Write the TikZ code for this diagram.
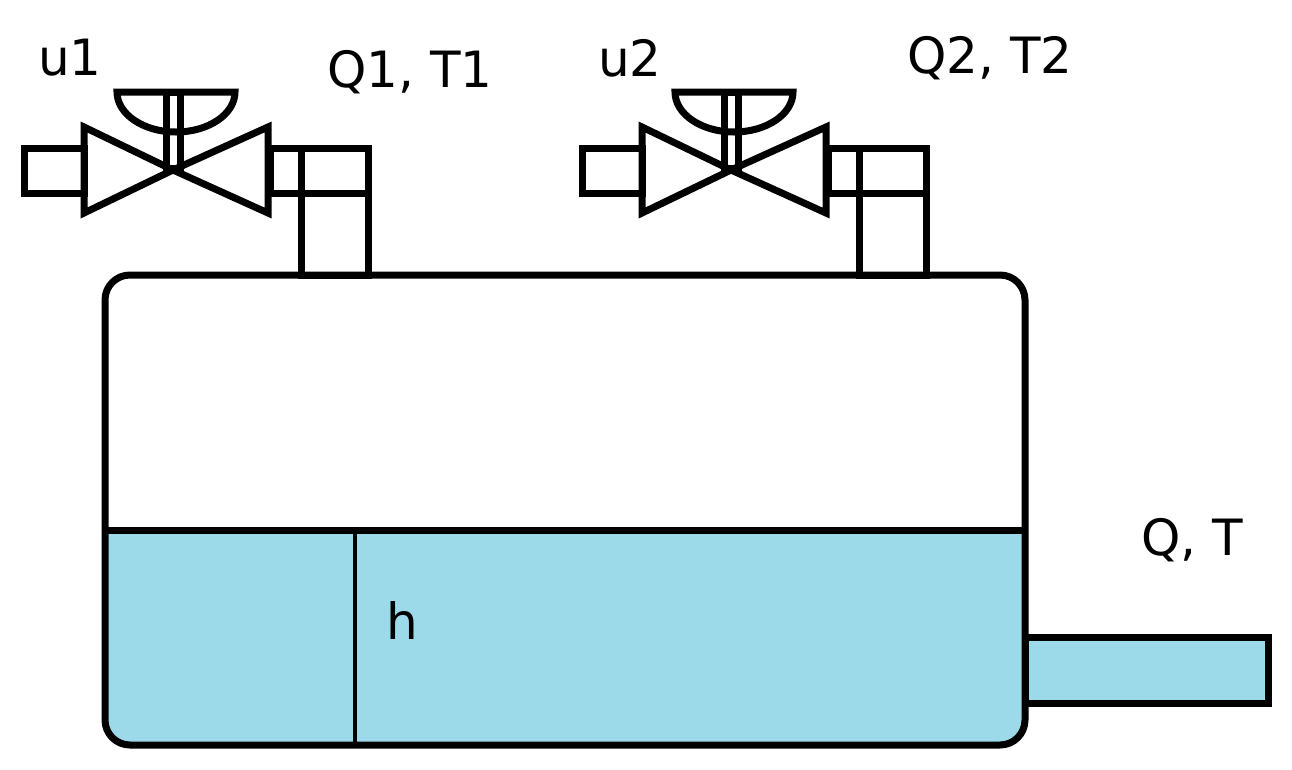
\documentclass[tikz,border=0pt]{standalone}
\usepackage{fontspec}
\setmainfont{DejaVu Sans}
\definecolor{liq}{HTML}{9CDAEA}
\begin{document}
\begin{tikzpicture}[x=1pt,y=-1pt,line width=7pt,line join=miter,
  lbl/.style={font=\fontsize{50}{60}\selectfont,inner sep=0pt},
  valve/.pic={
    \draw (24,148) rectangle (84,193);
    \draw (173,170) -- (84,127) -- (84,213) -- cycle;
    \draw (173,170) -- (268,127) -- (268,213) -- cycle;
    \draw (166,92) rectangle (180,168);
    \draw (117,92) arc[start angle=180,end angle=0,x radius=59,y radius=40] -- cycle;
    \draw (270,148) rectangle (368,193);
    \draw (301,148) rectangle (368,275);
  }]
\useasboundingbox (0,0) rectangle (1292,769);
\fill[liq] (105,530) -- (1025,530) -- (1025,720) arc[start angle=0,end angle=90,radius=25] -- (130,745) arc[start angle=90,end angle=180,radius=25] -- cycle;
\draw[fill=liq] (1025,637) rectangle (1268,703);
\draw[line width=4pt] (355,530) -- (355,745);
\draw (105,530) -- (1025,530);
\draw[rounded corners=25pt] (105,275) rectangle (1025,745);
\pic {valve};
\pic at (558,0) {valve};
\node[lbl] (u1) at (70,58) {u1};
\node[lbl] (q1) at (410,72) {Q1, T1};
\node[lbl] (u2) at (630,58) {u2};
\node[lbl] (q2) at (990,58) {Q2, T2};
\node[lbl] (h) at (402,620) {h};
\node[lbl] (q) at (1192,540) {Q, T};
\end{tikzpicture}
\end{document}
